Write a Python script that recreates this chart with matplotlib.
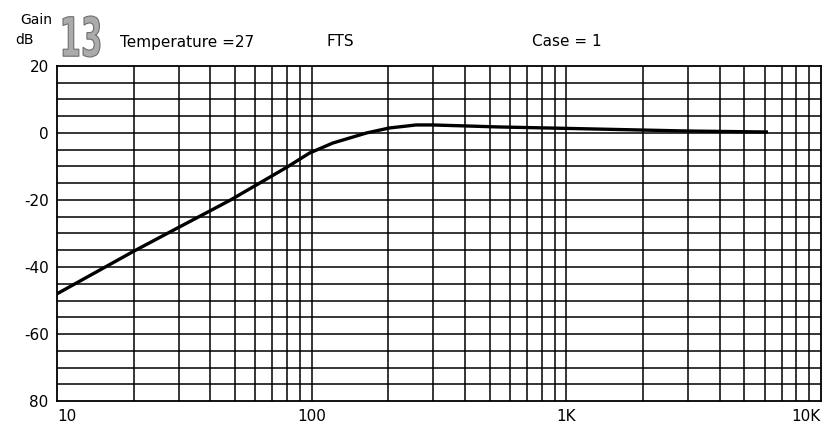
import matplotlib.pyplot as plt
from matplotlib.textpath import TextPath
from matplotlib.patches import PathPatch
from matplotlib.font_manager import FontProperties
from matplotlib.transforms import Affine2D
import numpy as np

# ── DATA ─────────────────────────────────────────────────────────────────────
freq_hz = [10, 20, 30, 40, 48, 80, 98, 121, 164, 202, 257, 298, 405, 546, 970, 2950, 6100]
gain_db = [-48, -35.3, -28.2, -23.2, -20, -10.2, -6, -3, 0, 1.5, 2.4, 2.4, 2.1, 1.8, 1.4, 0.6, 0.3]

y_ticks = [20, 0, -20, -40, -60, -80]
y_tick_labels = ["20", "0", "-20", "-40", "-60", "80"]
x_ticks = [10, 100, 1000, 10000]
x_tick_labels = ["10", "100", "1K", "10K"]

# ── FIGURE ───────────────────────────────────────────────────────────────────
fig = plt.figure(figsize=(8.39, 4.36), dpi=100)
ax = fig.add_axes([57 / 839, 1 - 401 / 436, (821 - 57) / 839, (401 - 66) / 436])

ax.set_xscale("log")
ax.set_xlim(10, 10000)
ax.set_ylim(-80, 20)

# chart paper grid: every 5 dB, 2..9 per decade
for y in np.arange(-75, 20, 5):
    ax.axhline(y, color="black", linewidth=1.1, zorder=1)
for dec in [10, 100, 1000]:
    for m in range(2, 10):
        ax.axvline(dec * m, color="black", linewidth=1.1, zorder=1)
ax.axvline(100, color="black", linewidth=1.1, zorder=1)
ax.axvline(1000, color="black", linewidth=1.1, zorder=1)

ax.plot(freq_hz, gain_db, color="black", linewidth=2.4, zorder=3)

for s in ax.spines.values():
    s.set_linewidth(1.3)

ax.set_yticks(y_ticks)
ax.set_yticklabels(y_tick_labels, fontsize=11)
ax.set_xticks(x_ticks)
ax.set_xticklabels(x_tick_labels, fontsize=11)
ax.xaxis.set_minor_locator(plt.NullLocator())
ax.tick_params(length=0, pad=6)
for lbl in ax.get_xticklabels():
    if lbl.get_text() == "10K":
        lbl.set_horizontalalignment("right")
    if lbl.get_text() == "10":
        lbl.set_horizontalalignment("left")

# header texts
fig.text(20 / 839, 1 - 20 / 436, "Gain", fontsize=10, va="center")
fig.text(15 / 839, 1 - 40 / 436, "dB", fontsize=10, va="center")
fig.text(120 / 839, 1 - 42 / 436, "Temperature =27", fontsize=11, va="center")
fig.text(326 / 839, 1 - 42 / 436, "FTS", fontsize=11, va="center")
fig.text(532 / 839, 1 - 42 / 436, "Case = 1", fontsize=11, va="center")

# big grey page number, squeezed horizontally
tp = TextPath((0, 0), "13", size=42, prop=FontProperties(family="DejaVu Sans", weight="bold"))
bb = tp.get_extents()
sx = 37 / bb.width
sy = 41 / bb.height
tr = Affine2D().translate(-bb.x0, -bb.y0).scale(sx, sy).translate(63, 436 - 57)
num = PathPatch(tr.transform_path(tp), facecolor="#ababab", edgecolor="#6e6e6e",
                linewidth=0.8, transform=None)
fig.add_artist(num)

plt.savefig("out.png", dpi=100)
